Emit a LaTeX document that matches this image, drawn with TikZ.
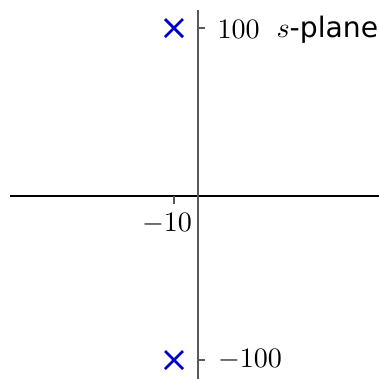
\documentclass[tikz,border=0pt]{standalone}
\usepackage{fontspec}
\newfontfamily\planefont{DejaVu Sans}
\usetikzlibrary{calc}
\begin{document}
\begin{tikzpicture}[x=0.39pt,y=-0.39pt,
  axisx/.style={line width=0.6pt,black},
  axisy/.style={line width=0.8pt,black!65},
  tickline/.style={line width=0.6pt,black!65},
  polemark/.style={line width=1.1pt,blue!80!black},
  lbl/.style={inner sep=0pt,font=\fontsize{11}{13}\selectfont}]
\useasboundingbox (0,0) rectangle (379,379);
\coordinate (xl) at (10,196);
\coordinate (xr) at (379,196);
\coordinate (yt) at (198,10);
\coordinate (yb) at (198,379);
\draw[axisx] (xl) -- (xr);
\draw[axisy] (yt) -- (yb);
% ticks
\coordinate (t10) at (174,196);
\coordinate (t10e) at (174,204);
\coordinate (tp) at (198,28);
\coordinate (tpe) at (205,28);
\coordinate (tm) at (198,360);
\coordinate (tme) at (205,360);
\draw[tickline] (t10) -- (t10e);
\draw[tickline] (tp) -- (tpe);
\draw[tickline] (tm) -- (tme);
% poles
\coordinate (p1) at (174,28);
\coordinate (p2) at (174,360);
\foreach \p in {p1,p2}{
  \draw[polemark] ($(\p)+(-9,-9)$) -- ($(\p)+(9,9)$);
  \draw[polemark] ($(\p)+(-9,9)$) -- ($(\p)+(9,-9)$);
}
% labels
\node[lbl,anchor=west] (l100) at (217,29) {$100$};
\node[lbl,anchor=base west] (lsp) at (276,37) {$s$\planefont -plane};
\node[lbl] (lm10) at (167,224) {$-10$};
\node[lbl] (lm100) at (250,360) {$-100$};
\end{tikzpicture}
\end{document}
